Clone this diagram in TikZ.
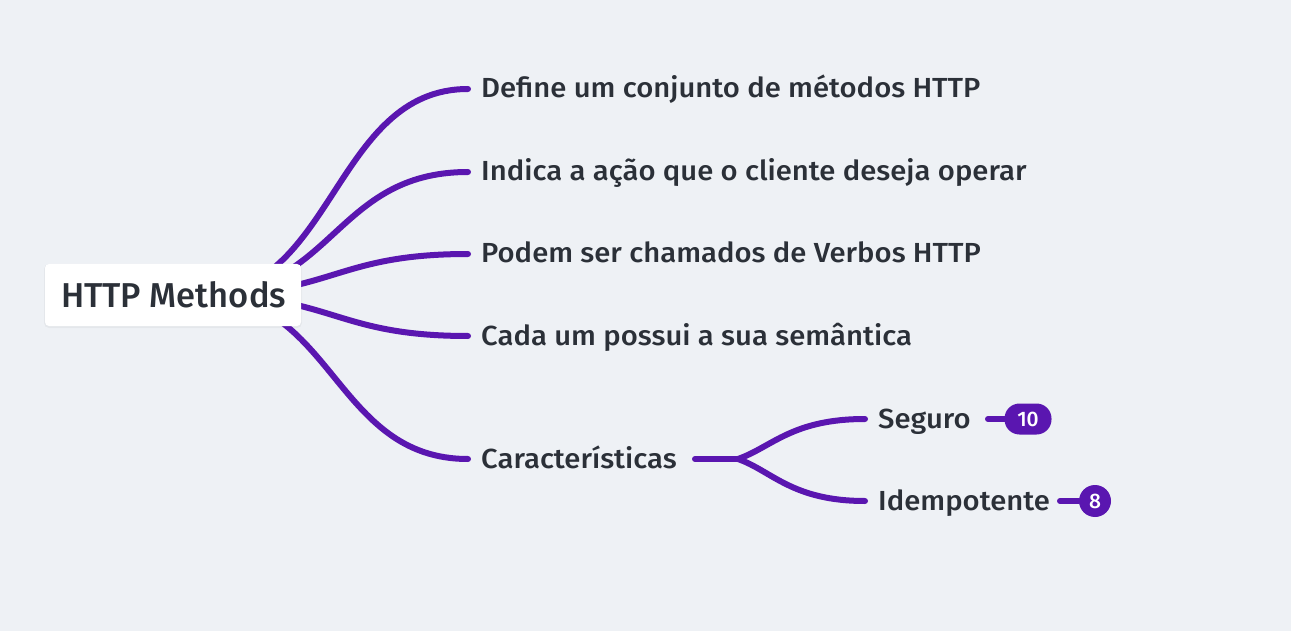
\documentclass[tikz,border=0pt]{standalone}
\usepackage{fontspec}
\setmainfont{Fira Sans}[UprightFont=* Medium]
\newfontfamily\childfont{Fira Sans}[UprightFont=* Medium,FakeStretch=1.06]
\definecolor{bg}{HTML}{EEF1F5}
\definecolor{branch}{HTML}{5A16B0}
\definecolor{ink}{HTML}{2B3038}
\begin{document}
\begin{tikzpicture}[x=1pt,y=-1pt,
  branchline/.style={draw=branch,line width=6pt,line cap=round},
  childtext/.style={anchor=base west,inner sep=0pt,text=ink,font=\childfont\fontsize{27.6}{30}\selectfont},
  rootbox/.style={fill=white,rounded corners=4pt,minimum width=256pt,minimum height=62pt,inner sep=0pt},
  badge/.style={fill=branch,text=white,rounded corners=15pt,minimum height=31pt,inner sep=0pt,font=\fontsize{21}{24}\selectfont}
]
\useasboundingbox[fill=bg] (0,0) rectangle (1291,631);

% anchor points
\coordinate (o) at (200,295);
\coordinate (e1) at (468,89);
\coordinate (e2) at (468,172);
\coordinate (e3) at (468,254);
\coordinate (e4) at (468,336);
\coordinate (e5) at (468,459);
\coordinate (cs) at (695,459);
\coordinate (fk) at (738,459);
\coordinate (s1) at (865,419);
\coordinate (s2) at (865,501);
\coordinate (b1s) at (988,419);
\coordinate (b2s) at (1060,501);

% root branches
\draw[branchline] (o) .. controls (334,295) and (334,89) .. (e1);
\draw[branchline] (o) .. controls (334,295) and (334,172) .. (e2);
\draw[branchline] (o) .. controls (334,295) and (334,254) .. (e3);
\draw[branchline] (o) .. controls (334,295) and (334,336) .. (e4);
\draw[branchline] (o) .. controls (334,295) and (334,459) .. (e5);

% root node
\fill[black,opacity=0.04,rounded corners=5pt] (44,264) rectangle (302,328);
\node[rootbox] (root) at (173,295) {};
\node[anchor=base west,inner sep=0pt,text=ink,font=\fontsize{34.5}{40}\selectfont] (roottext) at (61,307) {HTTP Methods};

% children
\node[childtext] (c1) at (481,98) {Define um conjunto de métodos HTTP};
\node[childtext] (c2) at (481,181) {Indica a ação que o cliente deseja operar};
\node[childtext] (c3) at (481,263) {Podem ser chamados de Verbos HTTP};
\node[childtext] (c4) at (481,345) {Cada um possui a sua semântica};
\node[childtext] (c5) at (481,468) {Características};

% sub branches
\draw[branchline] (cs) -- (fk);
\draw[branchline] (fk) .. controls (772,447) and (792,419) .. (s1);
\draw[branchline] (fk) .. controls (772,471) and (792,501) .. (s2);

\node[childtext] (g1) at (878,428) {Seguro};
\node[childtext] (g2) at (878,510) {Idempotente};

% badges
\node[badge,minimum width=47pt] (n1) at (1028,419) {10};
\node[badge,circle,minimum size=32pt] (n2) at (1095,501) {8};
\draw[branchline] (b1s) -- (n1.west);
\draw[branchline] (b2s) -- (n2.west);
\end{tikzpicture}
\end{document}
